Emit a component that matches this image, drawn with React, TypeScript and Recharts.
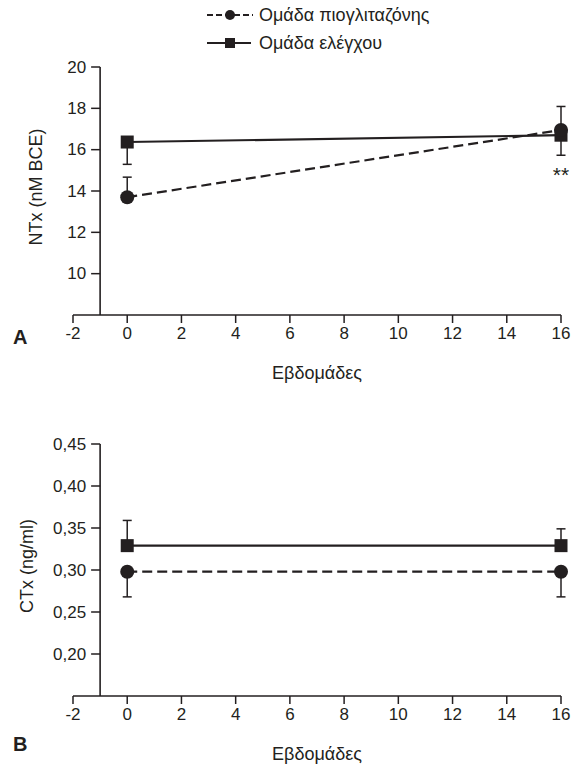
import React from 'react';
import { LineChart, Line, XAxis, YAxis, ErrorBar, ReferenceLine, ReferenceDot } from 'recharts';

// ---- data ----
const weeks = [0, 16];
const xTicks = [-2, 0, 2, 4, 6, 8, 10, 12, 14, 16];

// Panel A: NTx (nM BCE)
const ntxPio = [13.7, 16.95];
const ntxPioUpErr = [0.97, 1.14];
const ntxCtrl = [16.37, 16.7];
const ntxCtrlDownErr = [1.08, 0.97];
const ntxTicks = [10, 12, 14, 16, 18, 20];

// Panel B: CTx (ng/ml)
const ctxPio = [0.298, 0.298];
const ctxPioDownErr = [0.03, 0.03];
const ctxCtrl = [0.329, 0.329];
const ctxCtrlUpErr = [0.03, 0.02];
const ctxTicks = [0.2, 0.25, 0.3, 0.35, 0.4, 0.45];

const legendPio = 'Ομάδα πιογλιταζόνης';
const legendCtrl = 'Ομάδα ελέγχου';
const xLabel = 'Εβδομάδες';

const ntxData = weeks.map((w, i) => ({
  week: w,
  pio: ntxPio[i],
  pioErr: [0, ntxPioUpErr[i]],
  ctrl: ntxCtrl[i],
  ctrlErr: [ntxCtrlDownErr[i], 0],
}));
const ctxData = weeks.map((w, i) => ({
  week: w,
  pio: ctxPio[i],
  pioErr: [ctxPioDownErr[i], 0],
  ctrl: ctxCtrl[i],
  ctrlErr: [0, ctxCtrlUpErr[i]],
}));

// ---- style / layout ----
const INK = '#231f20';
const FONT = '"Liberation Sans", Arial, Helvetica, sans-serif';
const FS = 17;
const LFS = 18;
const W = 574;
const YAXIS_W = 73;
const RIGHT = 13;
const PLOT_W = W - YAXIS_W - RIGHT;
const UNIT = PLOT_W / 18;
const AXIS_X = YAXIS_W + UNIT; // y axis drawn at x = -1

const CircleDot = (props: any) => {
  const { cx, cy } = props;
  if (cx == null || cy == null) return null;
  return <circle cx={cx} cy={cy} r={7} fill={INK} stroke="none" />;
};
const SquareDot = (props: any) => {
  const { cx, cy } = props;
  if (cx == null || cy == null) return null;
  return <rect x={cx - 6.5} y={cy - 6.5} width={13} height={13} fill={INK} stroke="none" />;
};

const makeYTick = (fmt: (v: number) => string) => (props: any) => {
  const { y, payload } = props;
  return (
    <g>
      <line x1={AXIS_X - 9} x2={AXIS_X} y1={y} y2={y} stroke={INK} strokeWidth={1.5} />
      <text x={AXIS_X - 14} y={y} textAnchor="end" dominantBaseline="central" fill={INK} fontSize={FS} fontFamily={FONT}>
        {fmt(payload.value)}
      </text>
    </g>
  );
};

const yLabel = (text: string, cx: number, dy: number) => (props: any) => {
  const vb = props.viewBox || {};
  const cy = (vb.y ?? 0) + (vb.height ?? 0) / 2 + dy;
  return (
    <text
      x={cx}
      y={cy}
      transform={`rotate(-90 ${cx} ${cy})`}
      textAnchor="middle"
      dominantBaseline="central"
      fill={INK}
      fontSize={LFS}
      fontFamily={FONT}
    >
      {text}
    </text>
  );
};

const Panel = ({
  data,
  height,
  top,
  xHeight,
  domain,
  ticks,
  fmt,
  ylab,
  ylabX,
  labelOffset,
  children,
}: any) => (
  <LineChart
    width={W}
    height={height}
    data={data}
    margin={{ top, right: RIGHT, left: 0, bottom: 0 }}
    style={{ fontFamily: FONT }}
  >
    <XAxis
      type="number"
      dataKey="week"
      domain={[-2, 16]}
      ticks={xTicks}
      interval={0}
      height={xHeight}
      tickSize={8}
      tickMargin={4}
      axisLine={{ stroke: INK, strokeWidth: 1.6 }}
      tickLine={{ stroke: INK, strokeWidth: 1.5 }}
      tick={{ fill: INK, fontSize: FS, fontFamily: FONT }}
      label={{ value: xLabel, position: 'insideBottom', offset: labelOffset, fill: INK, fontSize: LFS, fontFamily: FONT }}
    />
    <YAxis
      type="number"
      domain={domain}
      ticks={ticks}
      interval={0}
      width={YAXIS_W}
      axisLine={false}
      tickLine={false}
      tick={makeYTick(fmt)}
      label={{ content: yLabel(ylab, ylabX, -4) }}
    />
    <ReferenceLine x={-1} stroke={INK} strokeWidth={1.6} />
    <Line
      type="linear"
      dataKey="ctrl"
      stroke={INK}
      strokeWidth={2.2}
      dot={<SquareDot />}
      activeDot={false}
      isAnimationActive={false}
    >
      <ErrorBar dataKey="ctrlErr" direction="y" width={4.5} stroke={INK} strokeWidth={1.5} />
    </Line>
    <Line
      type="linear"
      dataKey="pio"
      stroke={INK}
      strokeWidth={2.2}
      strokeDasharray="10 5"
      dot={<CircleDot />}
      activeDot={false}
      isAnimationActive={false}
    >
      <ErrorBar dataKey="pioErr" direction="y" width={4.5} stroke={INK} strokeWidth={1.5} />
    </Line>
    {children}
  </LineChart>
);

const Legend2 = () => (
  <svg width={W} height={60} style={{ position: 'absolute', left: 0, top: 0 }}>
    <line x1={207} x2={253} y1={15} y2={15} stroke={INK} strokeWidth={2.2} strokeDasharray="6 3" />
    <circle cx={230} cy={15} r={5} fill={INK} />
    <text x={259} y={15} dominantBaseline="central" fill={INK} fontSize={LFS} fontFamily={FONT}>
      {legendPio}
    </text>
    <line x1={207} x2={251} y1={43} y2={43} stroke={INK} strokeWidth={2.2} />
    <rect x={225} y={38} width={10} height={10} fill={INK} />
    <text x={259} y={43} dominantBaseline="central" fill={INK} fontSize={LFS} fontFamily={FONT}>
      {legendCtrl}
    </text>
  </svg>
);

export default function App() {
  return (
    <div style={{ position: 'absolute', left: 0, top: 0, width: W, height: 766, background: '#fff', fontFamily: FONT }}>
      <div style={{ position: 'absolute', left: 0, top: 0 }}>
        <Panel
          data={ntxData}
          height={390}
          top={67}
          xHeight={75}
          domain={[8, 20]}
          ticks={ntxTicks}
          fmt={(v: number) => String(v)}
          ylab="NTx (nM BCE)"
          ylabX={36}
          labelOffset={11}
        >
          <ReferenceDot
            x={weeks[1]}
            y={ntxCtrl[1] - ntxCtrlDownErr[1]}
            r={0}
            fill="none"
            stroke="none"
            label={{ value: '**', position: 'bottom', offset: 12, fill: INK, fontSize: 21, fontFamily: FONT }}
          />
        </Panel>
      </div>
      <div style={{ position: 'absolute', left: 0, top: 390 }}>
        <Panel
          data={ctxData}
          height={376}
          top={54}
          xHeight={70}
          domain={[0.15, 0.45]}
          ticks={ctxTicks}
          fmt={(v: number) => v.toFixed(2).replace('.', ',')}
          ylab="CTx (ng/ml)"
          ylabX={27}
          labelOffset={6}
        />
      </div>
      <Legend2 />
      <div style={{ position: 'absolute', left: 13, top: 326, fontSize: 20, fontWeight: 'bold', color: INK, lineHeight: '22px' }}>A</div>
      <div style={{ position: 'absolute', left: 13, top: 733, fontSize: 20, fontWeight: 'bold', color: INK, lineHeight: '22px' }}>B</div>
    </div>
  );
}
